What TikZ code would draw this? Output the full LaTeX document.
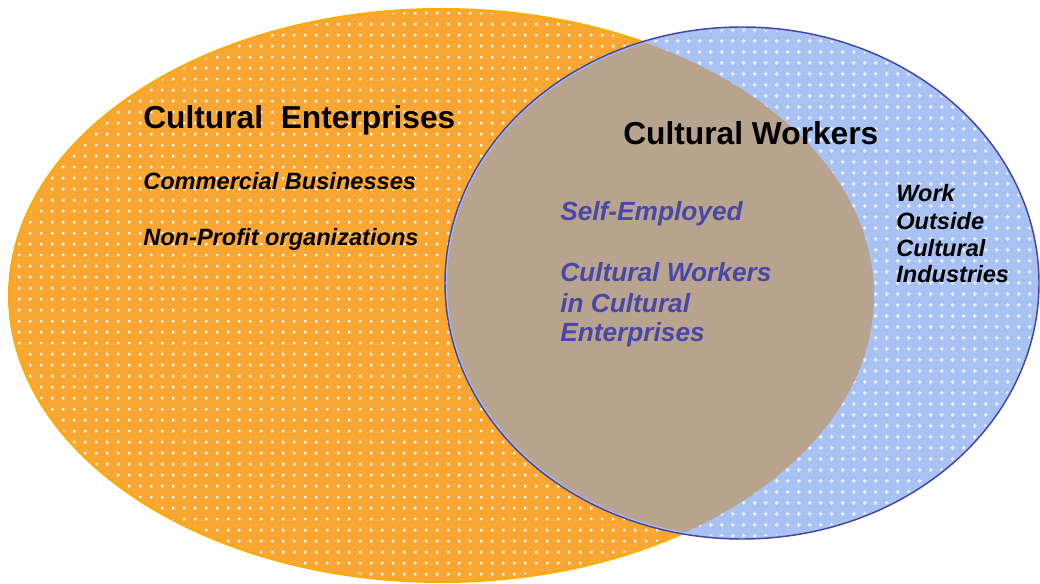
\documentclass[tikz,border=0pt]{standalone}
\usepackage{fontspec}
\setmainfont{Liberation Sans}
\definecolor{enterpriseorange}{RGB}{249,167,50}
\definecolor{enterpriseedge}{RGB}{250,172,0}
\definecolor{workerblue}{RGB}{168,194,243}
\definecolor{workerdot}{RGB}{232,240,253}
\definecolor{workeredge}{RGB}{68,68,170}
\definecolor{overlapcolor}{RGB}{184,163,142}
\definecolor{labelblue}{RGB}{72,72,168}

\begin{document}
\begin{tikzpicture}[
    x=0.75pt, y=-0.75pt,
    title/.style={anchor=base west, inner sep=0pt, font=\fontsize{23.8}{28}\selectfont\bfseries},
    item/.style={anchor=base west, inner sep=0pt, font=\fontsize{17.7}{21}\selectfont\bfseries\itshape},
    bluelabel/.style={anchor=base west, inner sep=0pt, text=labelblue, font=\fontsize{19.7}{23}\selectfont\bfseries\itshape}
]
    \useasboundingbox (0,0) rectangle (1040,584);

    % enterprises, dotted
    \fill[enterpriseorange] (441.5,295.5) ellipse (432.5 and 286.5);
    \begin{scope}
        \clip (441.5,295.5) ellipse (430 and 284);
        \fill[white] \foreach \px in {7,18,...,876} {\foreach \py in {1,12,...,584} {(\px,\py) rectangle ++(2.4,2.4)}};
    \end{scope}
    \draw[enterpriseedge, line width=1.5pt] (441.5,295.5) ellipse (432.5 and 286.5);

    % workers, with small crosses
    \fill[workerblue] (742,283) ellipse (297 and 256);
    \begin{scope}
        \clip (742,283) ellipse (295 and 254);
        \fill[workerdot] \foreach \px in {446,457,...,1040} {\foreach \py in {28,39,...,540} {(\px,\py) rectangle ++(1.4,3.8) (\px-1.2,\py+1.2) rectangle ++(3.8,1.4)}};
        \fill[overlapcolor] (441.5,295.5) ellipse (432.5 and 286.5);
    \end{scope}
    \draw[workeredge, line width=1.1pt] (742,283) ellipse (297 and 256);

    \node[title] (enterprises) at (143,129) {Cultural\ \ Enterprises};
    \node[item] (commercial) at (143,190) {Commercial Businesses};
    \node[item] (nonprofit) at (143,246) {Non-Profit organizations};

    \node[title] (workers) at (623,145) {Cultural Workers};
    \node[bluelabel] (selfemployed) at (560,221) {Self-Employed};
    \node[bluelabel] (inside1) at (560,282) {Cultural Workers};
    \node[bluelabel] (inside2) at (560,313) {in Cultural};
    \node[bluelabel] (inside3) at (560,342) {Enterprises};

    \node[item] (outside1) at (896,202) {Work};
    \node[item] (outside2) at (896,230) {Outside};
    \node[item] (outside3) at (896,257) {Cultural};
    \node[item] (outside4) at (896,283) {Industries};
\end{tikzpicture}
\end{document}
